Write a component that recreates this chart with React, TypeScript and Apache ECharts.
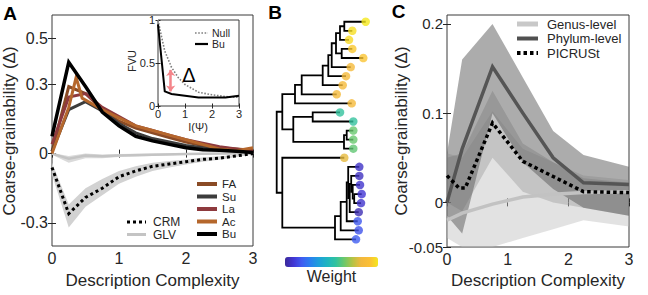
import React, { useEffect, useRef } from 'react';
import * as echarts from 'echarts';

// ---------- Panel A: coarse-grainability per community ----------
const aX = [0, 0.25, 0.5, 0.75, 1, 1.25, 1.5, 1.75, 2, 2.25, 2.5, 2.75, 3];
const faY = [0.01, 0.29, 0.26, 0.19, 0.14, 0.11, 0.09, 0.07, 0.05, 0.035, 0.025, 0.02, 0.015];
const suY = [0.01, 0.19, 0.225, 0.185, 0.13, 0.09, 0.065, 0.05, 0.035, 0.025, 0.02, 0.012, 0.008];
const laY = [0.04, 0.245, 0.26, 0.2, 0.16, 0.12, 0.1, 0.08, 0.06, 0.045, 0.03, 0.02, 0.01];
const acX = [0, 0.25, 0.36, 0.45, 0.75, 1, 1.25, 1.5, 1.75, 2, 2.25, 2.5, 2.75, 3];
const acY = [0, 0.2, 0.33, 0.24, 0.19, 0.155, 0.12, 0.1, 0.08, 0.06, 0.04, 0.02, 0.012, 0.025];
const buY = [0.075, 0.395, 0.29, 0.18, 0.12, 0.075, 0.055, 0.04, 0.025, 0.017, 0.015, 0.01, 0.005];
const crmY = [-0.06, -0.26, -0.19, -0.15, -0.1, -0.075, -0.055, -0.045, -0.035, -0.025, -0.02, -0.01, 0];
const crmLo = [-0.09, -0.32, -0.23, -0.18, -0.13, -0.1, -0.075, -0.06, -0.047, -0.035, -0.027, -0.015, -0.004];
const crmHi = [-0.04, -0.22, -0.15, -0.11, -0.075, -0.055, -0.04, -0.032, -0.025, -0.017, -0.012, -0.006, 0.002];
const glvX = [0, 0.25, 0.5, 0.75, 1, 1.5, 2, 2.5, 3];
const glvY = [0, -0.022, -0.008, -0.012, -0.008, -0.005, -0.002, 0, 0];
const glvLo = [-0.005, -0.04, -0.02, -0.02, -0.015, -0.01, -0.006, -0.003, -0.002];
const glvHi = [0.003, -0.01, 0.0, -0.004, -0.002, 0, 0.002, 0.003, 0.002];
const aYTicks = [-0.3, 0, 0.3, 0.5];
const aLegendNames = ['FA', 'Su', 'La', 'Ac', 'Bu'];
const aColors = ['#8a4b25', '#3c3c3c', '#8e3a3e', '#b5672c', '#000000'];

// ---------- Inset: FVU ----------
const nullX = [0, 0.1, 0.25, 0.5, 0.75, 1, 1.5, 2, 2.5, 3];
const nullY = [1, 0.85, 0.64, 0.45, 0.33, 0.25, 0.16, 0.13, 0.11, 0.1];
const insBuX = [0, 0.25, 0.5, 1, 1.5, 2, 2.5, 3];
const insBuY = [0.95, 0.17, 0.14, 0.12, 0.1, 0.1, 0.1, 0.12];
const deltaArrowX = 0.47;
const deltaArrowY = [0.17, 0.42];

// ---------- Panel B: dendrogram ----------
const leafDist = [89, 75.6, 72.3, 75.6, 86.6, 74, 69.3, 66, 60, 75, 63.3, 76.6, 76.6, 76.6, 76.6, 67.6, 82.6, 82.6, 83.3, 85, 84.3, 82, 81, 82, 79.3];
const leafWeight = [1.0, 0.98, 0.97, 0.93, 0.92, 0.85, 0.85, 0.85, 0.85, 0.85, 0.55, 0.55, 0.63, 0.63, 0.62, 0.8, 0.07, 0.06, 0.08, 0.09, 0.08, 0.04, 0.17, 0.16, 0.18];
const treeJoins: [string, number, string, string][] = [
  ['N1', 67.6, 'L1', 'L2'],
  ['N2', 63.3, 'N1', 'L3'],
  ['N4', 65, 'L4', 'L5'],
  ['N3', 59.3, 'N2', 'N4'],
  ['N5', 55, 'N3', 'L6'],
  ['N6', 51.6, 'N5', 'L7'],
  ['N7', 46, 'N6', 'L8'],
  ['N8', 25, 'N7', 'L9'],
  ['N9', 18.3, 'N8', 'L10'],
  ['N11', 36, 'L11', 'L12'],
  ['N12b', 70, 'L13', 'L14'],
  ['N12', 67.3, 'N12b', 'L15'],
  ['N10', 16.6, 'N11', 'N12'],
  ['U', 5.6, 'N9', 'N10'],
  ['NP5', 77.5, 'L20', 'L21'],
  ['NP4', 76, 'L19', 'NP5'],
  ['NP3', 74.5, 'L18', 'NP4'],
  ['NP2', 73, 'NP3', 'L22'],
  ['NP1', 71.5, 'L17', 'NP2'],
  ['N15', 70, 'NP1', 'L23'],
  ['N14', 64, 'N15', 'L24'],
  ['N13', 58.3, 'N14', 'L25'],
  ['Lo', 5.6, 'L16', 'N13'],
  ['R', 0, 'U', 'Lo'],
];
const parula = ['#3b2a9a', '#4236d4', '#3f5df2', '#2a80ef', '#1ea0da', '#1fb5c0', '#30c2a0', '#6cc86a', '#b5c345', '#f2b83e', '#fbbf36', '#f5e81e'];

// ---------- Panel C ----------
const cX = [0, 0.25, 0.75, 1.25, 1.75, 2.25, 3];
const genusY = [-0.02, -0.012, -0.002, 0.006, 0.009, 0.011, 0.012];
const genusHi = [0.055, 0.05, 0.102, 0.06, 0.045, 0.03, 0.025];
const genusLo = [-0.04, -0.05, -0.05, -0.04, -0.03, -0.02, -0.027];
const phylumY = [0, 0.06, 0.152, 0.1, 0.05, 0.022, 0.02];
const phylumHi = [0.055, 0.16, 0.2, 0.14, 0.08, 0.053, 0.04];
const phylumLo = [-0.015, -0.035, 0.1, 0.045, 0.015, -0.006, -0.015];
const picrustX = [0, 0.2, 0.3, 0.75, 1.25, 1.75, 2.25, 3];
const picrustY = [0.03, 0.016, 0.016, 0.089, 0.046, 0.029, 0.012, 0.011];
const picrustHi = [0.05, 0.055, 0.125, 0.066, 0.045, 0.027, 0.022];
const picrustLo = [0, -0.01, 0.05, 0.012, 0, -0.006, -0.015];
const cYTicks = [-0.05, 0, 0.1, 0.2];
const cLegendNames = ['Genus-level', 'Phylum-level', 'PICRUSt'];

const FONT = '"Liberation Sans", Arial, Helvetica, sans-serif';
const INK = '#262626';

function band(xs: number[], up: number[], lo: number[], fill: string, ax: number, z = 1) {
  return {
    type: 'custom',
    xAxisIndex: ax,
    yAxisIndex: ax,
    silent: true,
    z,
    data: [[xs[0], up[0]]],
    renderItem: (_p: any, api: any) => {
      const pts: number[][] = xs.map((x, i) => api.coord([x, up[i]]));
      for (let i = xs.length - 1; i >= 0; i--) pts.push(api.coord([xs[i], lo[i]]));
      return { type: 'polygon', shape: { points: pts }, style: { fill } };
    },
  };
}

function line(xs: number[], ys: number[], color: string, width: number, type: any, ax: number, z = 3) {
  return {
    type: 'line',
    xAxisIndex: ax,
    yAxisIndex: ax,
    data: xs.map((x, i) => [x, ys[i]]),
    showSymbol: false,
    symbol: 'none',
    silent: true,
    z,
    lineStyle: { color, width, type, cap: 'butt', join: 'miter' },
  };
}

function xAx(grid: number, pos: string, labels: boolean, fontSize: number, margin: number, tickLen: number) {
  return {
    type: 'value', gridIndex: grid, position: pos, min: 0, max: 3, interval: 1,
    axisLine: { show: false }, splitLine: { show: false },
    axisTick: { show: true, inside: true, length: tickLen, lineStyle: { color: INK, width: 1 } },
    axisLabel: { show: labels, fontSize, color: INK, margin, fontFamily: FONT },
  };
}

function yAx(grid: number, pos: string, labels: boolean, min: number, max: number, ticks: number[] | null, interval: number | null, fontSize: number, margin: number, tickLen: number) {
  const o: any = {
    type: 'value', gridIndex: grid, position: pos, min, max,
    axisLine: { show: false }, splitLine: { show: false },
    axisTick: { show: true, inside: true, length: tickLen, lineStyle: { color: INK, width: 1 } },
    axisLabel: { show: labels, fontSize, color: INK, margin, fontFamily: FONT },
  };
  if (ticks) {
    o.axisTick.customValues = ticks;
    o.axisLabel.customValues = ticks;
  }
  if (interval) o.interval = interval;
  return o;
}

function txt(text: string, x: number, y: number, size: number, opts: any = {}) {
  return {
    type: 'text', x, y, z: 100, rotation: opts.rotation || 0, silent: true,
    style: {
      text, fill: opts.color || INK, fontSize: size, fontFamily: FONT,
      fontWeight: opts.bold ? 'bold' : 'normal',
      lineHeight: opts.lineHeight || undefined,
      align: opts.align || 'center', verticalAlign: 'middle',
    },
  };
}

function seg(x1: number, x2: number, y: number, color: string, width: number, dash?: number[]) {
  return {
    type: 'line', z: 100, silent: true,
    shape: { x1, y1: y, x2, y2: y },
    style: { stroke: color, lineWidth: width, lineDash: dash || null, lineCap: 'butt' },
  };
}

function buildOption() {
  // dendrogram layout: y = mean of children, x = join distance
  const pos: Record<string, [number, number]> = {};
  leafDist.forEach((d, i) => { pos['L' + (i + 1)] = [d, i + 1]; });
  const treeSeries: any[] = [];
  treeJoins.forEach(([id, d, a, b]) => {
    const pa = pos[a];
    const pb = pos[b];
    pos[id] = [d, (pa[1] + pb[1]) / 2];
    treeSeries.push({
      type: 'line', xAxisIndex: 4, yAxisIndex: 4, silent: true, z: 3,
      showSymbol: false, symbol: 'none',
      data: [[pa[0], pa[1]], [d, pa[1]], [d, pb[1]], [pb[0], pb[1]]],
      lineStyle: { color: '#000', width: 1.8, join: 'miter' },
    });
  });

  const series: any[] = [
    // Panel A
    band(aX, crmHi, crmLo, '#d2d2d2', 0),
    band(glvX, glvHi, glvLo, '#dadada', 0),
    line(glvX, glvY, '#c4c4c4', 2.5, 'solid', 0),
    line(aX, crmY, '#000', 3, [3, 3], 0, 4),
    line(aX, faY, aColors[0], 3, 'solid', 0, 5),
    line(aX, suY, aColors[1], 3, 'solid', 0, 5),
    line(aX, laY, aColors[2], 3, 'solid', 0, 5),
    line(acX, acY, aColors[3], 3, 'solid', 0, 5),
    line(aX, buY, aColors[4], 3.5, 'solid', 0, 6),
    // Inset
    line(nullX, nullY, '#808080', 1.6, [1.6, 1.6], 2, 10),
    {
      ...line(insBuX, insBuY, '#000', 2, 'solid', 2, 10),
      markLine: {
        silent: true,
        symbol: ['arrow', 'arrow'],
        symbolSize: [7, 6],
        label: { show: false },
        lineStyle: { color: '#f4858a', width: 2.5, type: 'solid' },
        data: [[{ coord: [deltaArrowX, deltaArrowY[0]] }, { coord: [deltaArrowX, deltaArrowY[1]] }]],
      },
    },
    // Panel C
    band(cX, genusHi, genusLo, 'rgba(190,190,190,0.45)', 5, 1),
    band(cX, picrustHi, picrustLo, 'rgba(140,140,140,0.35)', 5, 1),
    band(cX, phylumHi, phylumLo, 'rgba(90,90,90,0.5)', 5, 1),
    line(cX, genusY, '#c2c2c2', 3.5, 'solid', 5, 3),
    line(cX, phylumY, '#555555', 3.5, 'solid', 5, 4),
    line(picrustX, picrustY, '#000', 3.5, [3.5, 3], 5, 5),
    ...treeSeries,
  ];
  const scatterIndex = series.length;
  series.push({
    type: 'scatter', xAxisIndex: 4, yAxisIndex: 4, silent: true, z: 5,
    symbol: 'circle', symbolSize: 8.5,
    data: leafDist.map((d, i) => [d, i + 1, leafWeight[i]]),
  });

  const graphic: any[] = [
    txt('A', 10, 13.5, 19, { bold: true, color: '#000' }),
    txt('B', 275, 12.5, 19, { bold: true, color: '#000' }),
    txt('C', 398.5, 11, 19, { bold: true, color: '#000' }),
    txt('Description Complexity', 152.5, 280, 17),
    txt('Coarse-grainability (Δ)', 9, 131, 17, { rotation: Math.PI / 2 }),
    txt('Description Complexity', 538, 280, 17),
    txt('Coarse-grainability (Δ)', 401, 131, 17, { rotation: Math.PI / 2 }),
    txt('FVU', 132, 61, 11, { rotation: Math.PI / 2 }),
    txt('I(Ψ)', 198, 127, 11),
    txt('Δ', 189, 75, 20, { color: '#000' }),
    seg(195, 208, 33, '#808080', 1.6, [1.6, 1.6]),
    seg(195, 208, 44, '#000', 2.2),
    txt('Null', 212, 32.5, 10.5, { align: 'left', lineHeight: 10 }),
    txt('Bu', 212, 44, 10.5, { align: 'left', lineHeight: 10 }),
    seg(127, 146, 222, '#000', 3, [3, 3]),
    seg(127, 146, 234.5, '#c4c4c4', 3),
    txt('CRM', 153, 222, 12, { align: 'left', lineHeight: 11 }),
    txt('GLV', 153, 234.5, 12, { align: 'left', lineHeight: 11 }),
    txt('Weight', 331.5, 276, 16),
  ];
  const aLegY = [184, 196.5, 209, 221.5, 234];
  aLegendNames.forEach((n, i) => {
    graphic.push(seg(197, 217, aLegY[i], aColors[i], 4));
    graphic.push(txt(n, 222, aLegY[i], 11.5, { align: 'left', lineHeight: 11 }));
  });
  const cLegY = [24, 38.5, 53];
  const cLegStyles: [string, number, number[] | undefined][] = [
    ['#c8c8c8', 5, undefined],
    ['#505050', 4, undefined],
    ['#000', 4, [3.5, 3]],
  ];
  cLegendNames.forEach((n, i) => {
    graphic.push(seg(517, 538, cLegY[i], cLegStyles[i][0], cLegStyles[i][1], cLegStyles[i][2]));
    graphic.push(txt(n, 547, cLegY[i], 13, { align: 'left', lineHeight: 13 }));
  });

  return {
    animation: false,
    backgroundColor: '#ffffff',
    textStyle: { fontFamily: FONT },
    grid: [
      { left: 52, top: 15, width: 201, height: 231, show: true, borderColor: '#3a3a3a', borderWidth: 1, backgroundColor: 'rgba(0,0,0,0)' },
      { left: 158, top: 20, width: 81, height: 86, show: true, borderColor: '#3a3a3a', borderWidth: 1, backgroundColor: '#ffffff' },
      { left: 276.7, top: 17.2, width: 100, height: 226.7 },
      { left: 447, top: 15, width: 182, height: 232, show: true, borderColor: '#3a3a3a', borderWidth: 1, backgroundColor: 'rgba(0,0,0,0)' },
    ],
    xAxis: [
      xAx(0, 'bottom', true, 16, 4, 4),
      xAx(0, 'top', false, 16, 4, 4),
      xAx(1, 'bottom', true, 11, 2, 2.5),
      xAx(1, 'top', false, 11, 2, 2.5),
      { type: 'value', gridIndex: 2, min: 0, max: 100, show: false },
      xAx(3, 'bottom', true, 16, 4, 4),
      xAx(3, 'top', false, 16, 4, 4),
    ],
    yAxis: [
      yAx(0, 'left', true, -0.4, 0.6, aYTicks, null, 16, 4, 4),
      yAx(0, 'right', false, -0.4, 0.6, aYTicks, null, 16, 4, 4),
      yAx(1, 'left', true, 0, 1, null, 0.5, 11, 3, 2.5),
      yAx(1, 'right', false, 0, 1, null, 0.5, 11, 3, 2.5),
      { type: 'value', gridIndex: 2, min: 0.5, max: 25.5, inverse: true, show: false },
      yAx(3, 'left', true, -0.05, 0.21, cYTicks, null, 15, 4, 4),
      yAx(3, 'right', false, -0.05, 0.21, cYTicks, null, 15, 4, 4),
    ],
    visualMap: {
      type: 'continuous',
      min: 0,
      max: 1,
      dimension: 2,
      seriesIndex: scatterIndex,
      orient: 'horizontal',
      left: 285,
      top: 257,
      itemWidth: 10,
      itemHeight: 93,
      padding: 0,
      calculable: false,
      hoverLink: false,
      text: ['', ''],
      showLabel: false,
      inRange: { color: parula },
    },
    series,
    graphic,
  };
}

export default function App() {
  const ref = useRef<HTMLDivElement>(null);
  useEffect(() => {
    if (!ref.current) return;
    const chart = echarts.init(ref.current, null, { renderer: 'svg' });
    chart.setOption(buildOption() as any);
    return () => chart.dispose();
  }, []);
  return <div ref={ref} style={{ position: 'absolute', left: 0, top: 0, width: 648, height: 295 }} />;
}
